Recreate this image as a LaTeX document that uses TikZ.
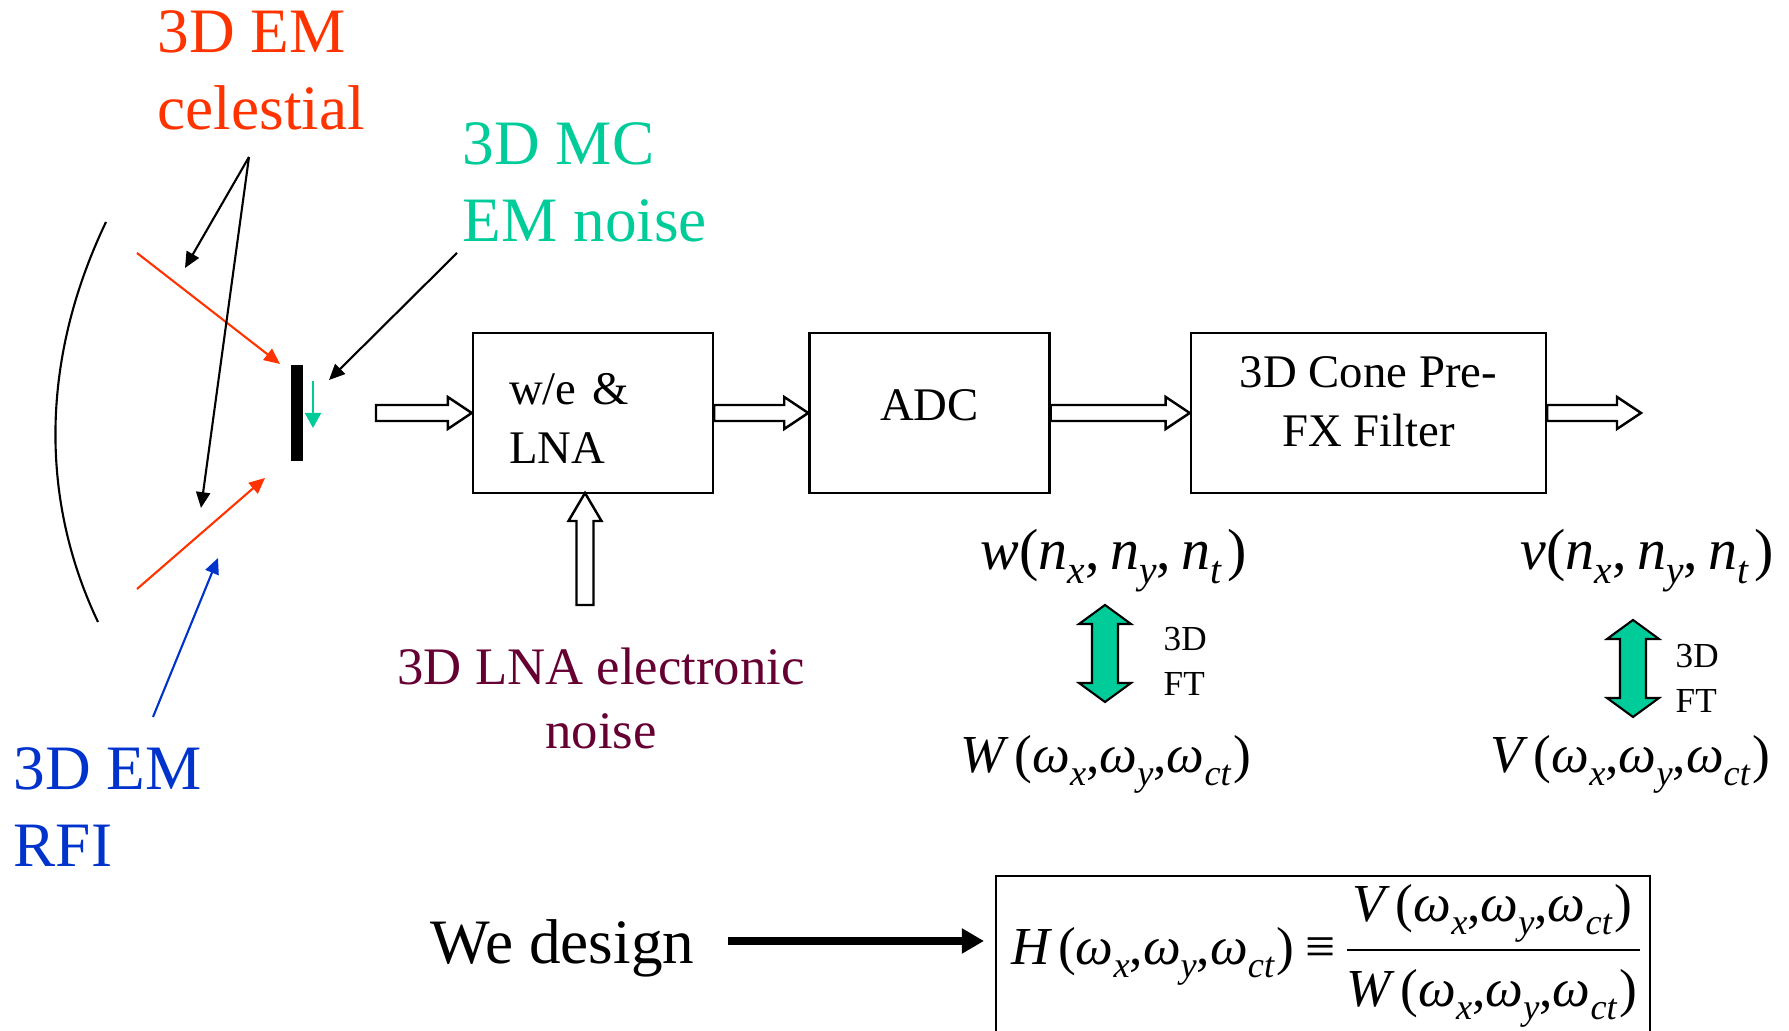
\documentclass[tikz,border=0pt]{standalone}
\usepackage{fontspec}
\setmainfont{Liberation Serif}
\usepackage{graphicx}
\usetikzlibrary{arrows.meta,calc,positioning}

\definecolor{emred}{HTML}{FF3300}
\definecolor{mcteal}{HTML}{00CC99}
\definecolor{rfiblue}{HTML}{0033CC}
\definecolor{lnamaroon}{HTML}{660033}

% subscript, spaced comma and lifted line for the texts
\newcommand{\lo}[1]{\raisebox{-.24em}{\scalebox{.68}{\itshape #1}}}
\newcommand{\cmm}{,\kern.18em}
\newcommand{\lift}[2]{\raisebox{#1}[\height][\depth]{#2}}
% hollow block arrow, left to right
\newcommand{\fatarrow}[2]{%
  \draw[hollow] ($(#1)+(0,.08)$) -- ($(#2)+(-.24,.08)$) -- ($(#2)+(-.24,.16)$) -- (#2)
    -- ($(#2)+(-.24,-.16)$) -- ($(#2)+(-.24,-.08)$) -- ($(#1)+(0,-.08)$) -- cycle;}
% green two-headed arrow, top to bottom
\newcommand{\ftarrow}[2]{%
  \draw[ftarr] (#1) -- ++(.26,-.19) -- ++(-.13,0) -- ($(#2)+(.13,.19)$) -- ++(.13,0) -- (#2)
    -- ++(-.26,.19) -- ++(.13,0) -- ($(#1)+(-.13,-.19)$) -- ++(-.13,0) -- cycle;}

\begin{document}
\begin{tikzpicture}[
  lbl/.style={inner sep=0, anchor=north west, align=left, font=\fontsize{18}{21.9}\selectfont},
  blk/.style={draw, line width=0.7pt, minimum height=1.6cm, inner sep=0, align=center,
    font=\fontsize{13.3}{16.8}\selectfont},
  hollow/.style={draw, line width=0.7pt, fill=white},
  ptr/.style={line width=0.6pt, -{Triangle[length=4.5pt,width=4pt]}},
  ftarr/.style={draw, line width=0.6pt, fill=mcteal},
  ftlbl/.style={inner sep=0, anchor=north west, align=left, font=\fontsize{10}{12.8}\selectfont},
  eq/.style={inner sep=0, anchor=base west, font=\fontsize{15.2}{18}\selectfont},
]
\useasboundingbox (0,0) rectangle (17.89,10.31);
\path
(1.06,8.09) coordinate (dishT)
(0.98,4.09) coordinate (dishB)
(1.37,7.78) coordinate (R1)
(2.80,6.67) coordinate (R1e)
(1.37,4.42) coordinate (R2)
(2.65,5.53) coordinate (R2e)
(2.49,8.74) coordinate (C)
(1.85,7.63) coordinate (Ca)
(2.01,5.23) coordinate (Cb)
(4.57,7.78) coordinate (M)
(3.29,6.51) coordinate (Me)
(1.53,3.14) coordinate (B)
(2.18,4.73) coordinate (Be)
(3.76,6.18) coordinate (feed)
(16.41,6.18) coordinate (out)
;

% dish and feed
\draw[line width=0.6pt] (dishT) .. controls (0.40,6.71) and (0.40,5.31) .. (dishB);
\fill (2.91,5.70) rectangle (3.03,6.66);
\draw[mcteal, line width=0.6pt, -{Triangle[length=4.3pt,width=4.6pt]}] (3.13,6.50) -- (3.13,6.03);
\foreach \a/\b in {R1/R1e, R2/R2e}
\draw[ptr, emred] (\a) -- (\b);
\foreach \b in {Ca, Cb}
\draw[ptr] (C) -- (\b);
\draw[ptr] (M) -- (Me);
\draw[ptr, rfiblue] (B) -- (Be);

\node[lbl, emred] (cel) at (1.57,10.21) {3D EM\\celestial};
\node[lbl, mcteal] (mc) at (4.62,9.09) {3D MC\\EM noise};
\node[lbl, rfiblue] (rfi) at (0.13,2.84) {3D EM\\RFI};

% receiver chain
\node[blk, minimum width=2.4cm, text width=1.68cm, align=left] (lna) at (5.93,6.18)
  {\lift{-.05cm}{w/e \&}\\\lift{-.05cm}{LNA}};
\node[blk, minimum width=2.4cm, right=0.94cm of lna] (adc) {\lift{.08cm}{ADC}};
\node[blk, minimum width=3.55cm, right=1.39cm of adc] (flt)
  {\lift{.11cm}{3D Cone Pre-}\\\lift{.11cm}{FX Filter}};
\fatarrow{feed}{lna.west}
\fatarrow{lna.east}{adc.west}
\fatarrow{adc.east}{flt.west}
\fatarrow{flt.east}{out}
\draw[hollow] (5.85,5.38) -- (6.015,5.10) -- (5.935,5.10) -- (5.935,4.26)
  -- (5.765,4.26) -- (5.765,5.10) -- (5.685,5.10) -- cycle;
\node[inner sep=0, anchor=north, align=center, lnamaroon, font=\fontsize{15}{18.2}\selectfont]
  (lnan) at (6.01,3.84) {3D LNA electronic\\noise};

% signals and transforms
\node[eq, font=\fontsize{16.5}{18}\selectfont] (wn) at (9.80,4.61)
  {\textit{w}(\textit{n}\lo{x}\cmm\textit{n}\lo{y}\cmm\textit{n}\lo{t}\kern.1em)};
\node[eq, font=\fontsize{16.5}{18}\selectfont] (vn) at (15.20,4.61)
  {\textit{v}(\textit{n}\lo{x}\cmm\textit{n}\lo{y}\cmm\textit{n}\lo{t}\kern.1em)};
\node[eq] (Ww) at (9.60,2.58)
  {\textit{W}\kern.1em(\textit{ω}\lo{x},\textit{ω}\lo{y},\textit{ω}\lo{ct}\kern.05em)};
\node[eq] (Vw) at (14.90,2.58)
  {\textit{V}\kern.1em(\textit{ω}\lo{x},\textit{ω}\lo{y},\textit{ω}\lo{ct}\kern.05em)};
\ftarrow{11.05,4.26}{11.05,3.29}
\ftarrow{16.33,4.11}{16.33,3.14}
\node[ftlbl] (ft1) at (11.63,4.04) {3D\\FT};
\node[ftlbl] (ft2) at (16.75,3.87) {3D\\FT};

% design equation
\node[inner sep=0, anchor=base west, font=\fontsize{18}{21.9}\selectfont] (dsg) at (4.30,0.67) {We design};
\path (7.28,0.90) coordinate (dsgS) (9.84,0.90) coordinate (dsgE);
\draw[line width=2.3pt, -{Triangle[length=6.3pt,width=6.8pt]}] (dsgS) -- (dsgE);
\draw[line width=0.7pt] (9.96,0) -- (9.96,1.55) -- (16.50,1.55) -- (16.50,0);
\node[eq] (Hw) at (10.11,0.66)
  {\textit{H}\kern.1em(\textit{ω}\lo{x},\textit{ω}\lo{y},\textit{ω}\lo{ct}\kern.05em)};
\node[eq] (eqv) at (13.05,0.66) {≡};
\node[eq, anchor=base] (num) at (14.925,1.09)
  {\textit{V}\kern.1em(\textit{ω}\lo{x},\textit{ω}\lo{y},\textit{ω}\lo{ct}\kern.05em)};
\node[eq, anchor=base] (den) at (14.92,0.24)
  {\textit{W}\kern.1em(\textit{ω}\lo{x},\textit{ω}\lo{y},\textit{ω}\lo{ct}\kern.05em)};
\draw[line width=0.6pt] (13.47,0.81) -- (16.40,0.81);
\end{tikzpicture}
\end{document}
